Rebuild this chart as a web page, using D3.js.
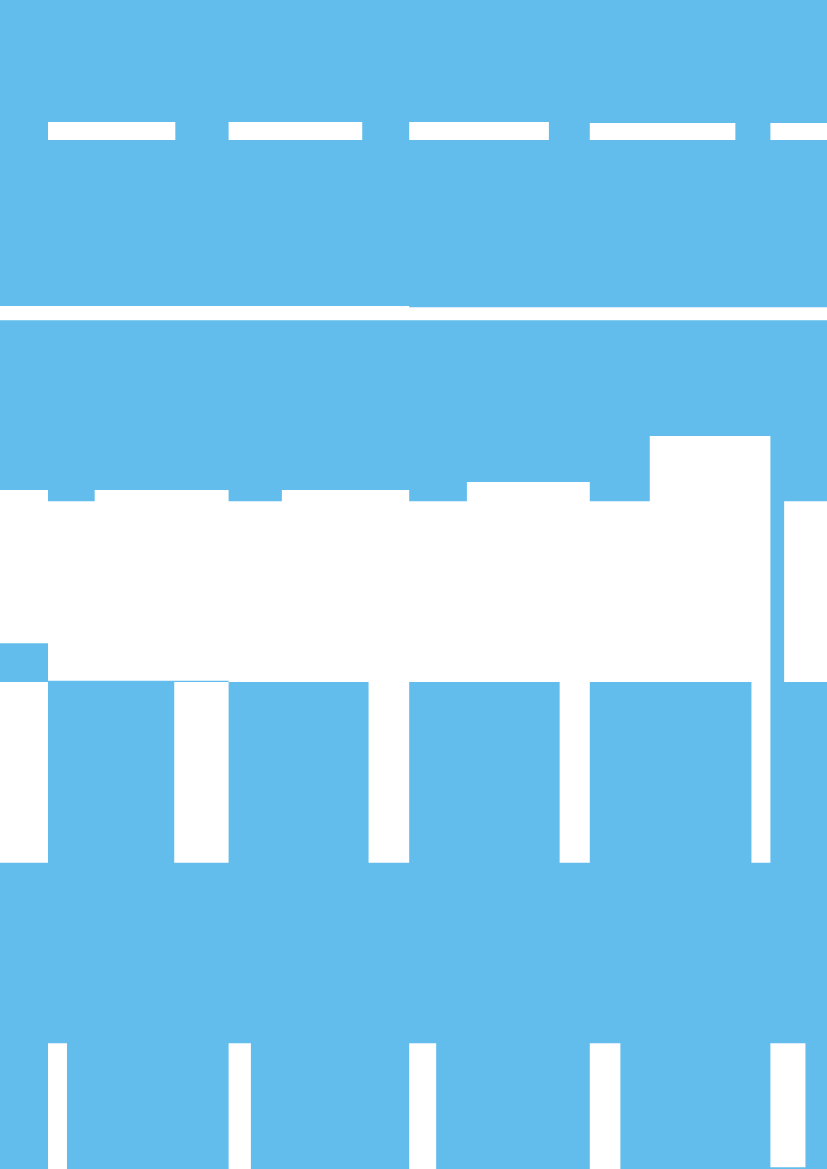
<!DOCTYPE html>
<html>
<head>
<meta charset="utf-8">
<script src="https://cdn.jsdelivr.net/npm/d3@7/dist/d3.min.js"></script>
<style>
  html, body { margin: 0; padding: 0; background: #62bdec; }
  svg { display: block; }
  .blocks { fill: #ffffff; fill-rule: nonzero; }
</style>
</head>
<body>
<svg id="board"></svg>
<script>
// columns, the first one only shows its right edge
var categories = ['lead', 'c1', 'c2', 'c3', 'c4', 'c5'];

// horizontal values are in percent of a column, vertical values on a 0-100 scale
var topBarWidth = [67, 70.5, 74.0, 77.35, 80.6, 84];
var topBarHigh = [89.56, 89.56, 89.56, 89.56, 89.48, 89.48];
var topBarLow = 88.02;

var ruleHigh = [73.82, 73.82, 73.82, 73.71, 73.71, 73.71];
var ruleLow = 72.6;

var bodyStart = [0, 0, 0, 0, 0, 7.6];
var capStart = [30, 25.85, 29.5, 31.95, 33.2, 7.6];
var capHigh = [58.08, 58.08, 58.08, 58.77, 62.7, 57.12];
var baseline = 57.12;
var bodyLow = [44.97, 41.77, 41.66, 41.66, 41.66, 41.66];

var pillarStart = [73, 69.9, 77.5, 83.3, 89.5, 95];
var pillarLow = 26.2;

var footWidth = [9, 10.5, 12.35, 14.95, 16.94, 19.4];
var footHigh = 10.75;
var footLow = [0, 0, 0, 0, 0, 0.15];

var width = 827;
var height = 1169;
var step = 180.6;
var firstColumn = 48;

var board = d3.select('#board')
  .attr('width', width)
  .attr('height', height);

var x = d3.scaleBand()
  .domain(categories)
  .range([firstColumn - step, firstColumn + (categories.length - 1) * step])
  .paddingInner(0)
  .paddingOuter(0);

var inner = d3.scaleLinear().domain([0, 100]).range([0, x.bandwidth()]);
var y = d3.scaleLinear().domain([0, 100]).range([height, 0]);

function makeBlocks() {
  var blocks = [];
  categories.forEach(function (cat, i) {
    var left = x(cat);
    var right = left + x.bandwidth();
    blocks.push({x0: left, x1: left + inner(topBarWidth[i]), y0: topBarHigh[i], y1: topBarLow});
    blocks.push({x0: left, x1: right, y0: ruleHigh[i], y1: ruleLow});
    blocks.push({x0: left + inner(capStart[i]), x1: right, y0: capHigh[i], y1: baseline});
    blocks.push({x0: left + inner(bodyStart[i]), x1: right, y0: baseline, y1: bodyLow[i]});
    blocks.push({x0: left + inner(pillarStart[i]), x1: right, y0: d3.min(bodyLow), y1: pillarLow});
    blocks.push({x0: left, x1: left + inner(footWidth[i]), y0: footHigh, y1: footLow[i]});
  });
  return blocks;
}

// one path for all blocks, so shared edges do not leave seams
function blocksPath(blocks) {
  var p = d3.path();
  blocks.forEach(function (d) {
    var w = d.x1 - d.x0;
    var h = y(d.y1) - y(d.y0);
    if (w > 0 && h > 0) {
      p.rect(d.x0, y(d.y0), w, h);
    }
  });
  return p.toString();
}

board.append('rect')
  .attr('width', width)
  .attr('height', height)
  .attr('fill', '#62bdec');

board.selectAll('.blocks').data([makeBlocks()])
  .enter().append('path')
    .classed('blocks', true)
    .attr('d', blocksPath);
</script>
</body>
</html>
